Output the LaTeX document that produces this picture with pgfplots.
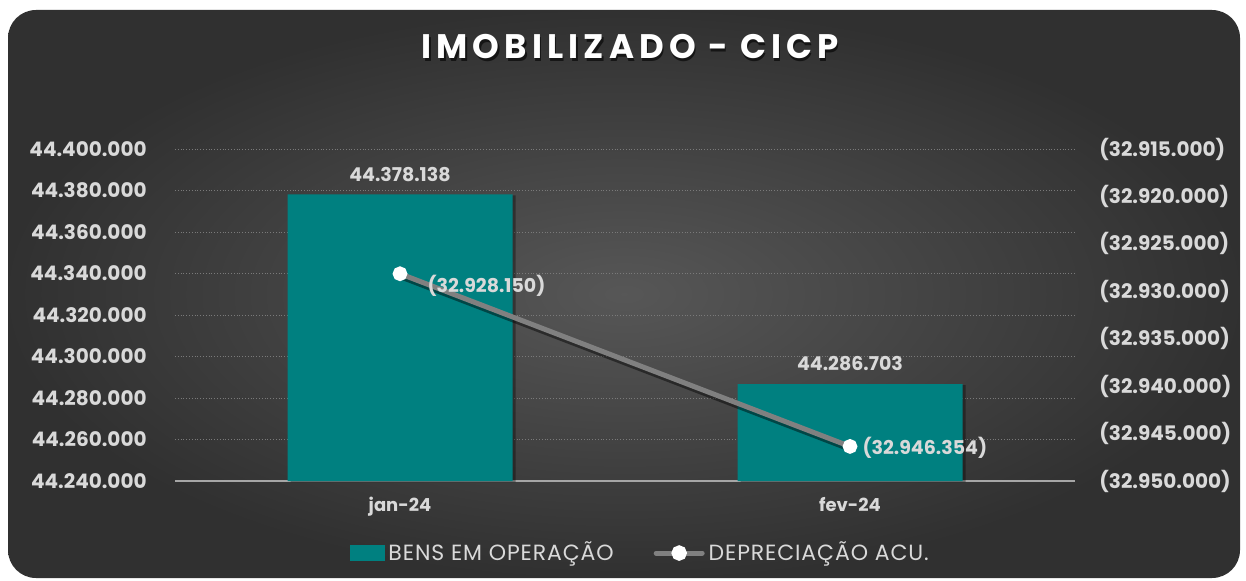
\documentclass[border=0pt]{standalone}
\usepackage{fontspec}
\setmainfont{Poppins}
\usepackage{pgfplots}
\pgfplotsset{compat=1.18}
\definecolor{barteal}{HTML}{008080}
\definecolor{linegray}{HTML}{808080}
\definecolor{lbl}{HTML}{D9D9D9}
\definecolor{gridc}{HTML}{7A7A7A}
\begin{document}
\begin{tikzpicture}
\fill[white] (0,0) rectangle (623pt,290pt);
\shade[rounded corners=14pt, inner color=black!66, outer color=black!81] (4pt,1pt) rectangle (620pt,285pt);
\node[font=\fontsize{17}{17}\selectfont\bfseries\addfontfeatures{LetterSpace=15}, text=black, opacity=0.6] at (315.8pt,265.2pt) {IMOBILIZADO - CICP};
\node[font=\fontsize{17}{17}\selectfont\bfseries\addfontfeatures{LetterSpace=15}, text=white] at (315pt,266.5pt) {IMOBILIZADO - CICP};
\begin{axis}[
  at={(87.5pt,49.5pt)}, anchor=south west, scale only axis,
  width=450pt, height=166pt,
  xmin=-0.5, xmax=1.5, ymin=44240000, ymax=44400000,
  scaled y ticks=false,
  xtick={0,1}, xticklabels={jan-24,fev-24},
  ytick={44240000,44260000,44280000,44300000,44320000,44340000,44360000,44380000,44400000},
  yticklabels={44.240.000,44.260.000,44.280.000,44.300.000,44.320.000,44.340.000,44.360.000,44.380.000,44.400.000},
  ymajorgrids, grid style={densely dotted, color=gridc, line width=0.5pt},
  axis x line*=bottom, axis y line*=left,
  y axis line style={draw=none},
  x axis line style={draw=black!35, line width=1pt, -},
  major tick length=0pt,
  ticklabel style={font=\fontsize{10}{10}\selectfont\bfseries, text=lbl},
  yticklabel style={anchor=east, inner sep=0pt, xshift=-14pt},
  xticklabel style={anchor=north, inner sep=0pt, yshift=-8pt, font=\fontsize{9}{9}\selectfont\bfseries},
  clip=false,
]
\addplot[ybar, bar width=0.5, fill=black, opacity=0.35, draw=none, xshift=1.5pt, yshift=-0.5pt, forget plot]
  table[x=x, y=y] {
x y
0 44378138
1 44286703
};
\addplot[ybar, bar width=0.5, fill=barteal, draw=none,
  nodes near coords, point meta=explicit symbolic,
  nodes near coords style={font=\fontsize{9.5}{9.5}\selectfont\bfseries, text=lbl, anchor=south, yshift=3pt}]
  table[x=x, y=y, meta=lab] {
x y lab
0 44378138 44.378.138
1 44286703 44.286.703
};
\end{axis}
\begin{axis}[
  at={(87.5pt,49.5pt)}, anchor=south west, scale only axis,
  width=450pt, height=166pt,
  xmin=-0.5, xmax=1.5, ymin=-32950000, ymax=-32915000,
  scaled y ticks=false,
  axis x line=none, axis y line*=right,
  y axis line style={draw=none},
  major tick length=0pt,
  ytick={-32950000,-32945000,-32940000,-32935000,-32930000,-32925000,-32920000,-32915000},
  yticklabels={(32.950.000),(32.945.000),(32.940.000),(32.935.000),(32.930.000),(32.925.000),(32.920.000),(32.915.000)},
  ticklabel style={font=\fontsize{10}{10}\selectfont\bfseries, text=lbl},
  yticklabel style={anchor=west, inner sep=0pt, xshift=12pt},
  clip=false,
  legend columns=2,
  legend style={at={(0.518,-0.217)}, anchor=center, draw=none, fill=none,
    font=\fontsize{11}{11}\selectfont\addfontfeatures{LetterSpace=4}, text=lbl,
    /tikz/every even column/.append style={column sep=18pt}},
]
\addlegendimage{legend image code/.code={\fill[barteal] (-2pt,-3.75pt) rectangle (15pt,3.75pt);}}
\addlegendentry{BENS EM OPERAÇÃO}
\addplot[black, opacity=0.45, line width=2.5pt, xshift=1.5pt, yshift=-2pt, forget plot]
  table[x=x, y=y] {
x y
0 -32928150
1 -32946354
};
\addplot[linegray, line width=2.5pt, mark=*, mark size=2.4pt,
  mark options={fill=white, draw=white},
  legend image code/.code={\draw[linegray, line width=2.5pt, line cap=round] (-8pt,0pt) -- (15pt,0pt); \fill[white] (3.5pt,0pt) circle (2.6pt);},
  nodes near coords, point meta=explicit symbolic,
  visualization depends on={value \thisrow{dy}\as\dy},
  visualization depends on={value \thisrow{dx}\as\dx},
  nodes near coords style={font=\fontsize{9.5}{9.5}\selectfont\bfseries, text=lbl, anchor=west, inner sep=0pt, xshift=\dx pt, yshift=\dy pt}]
  table[x=x, y=y, meta=lab] {
x y lab dy dx
0 -32928150 (32.928.150) -6 12.5
1 -32946354 (32.946.354) -0.5 5
};
\addlegendentry{DEPRECIAÇÃO ACU.}
\end{axis}
\end{tikzpicture}
\end{document}
